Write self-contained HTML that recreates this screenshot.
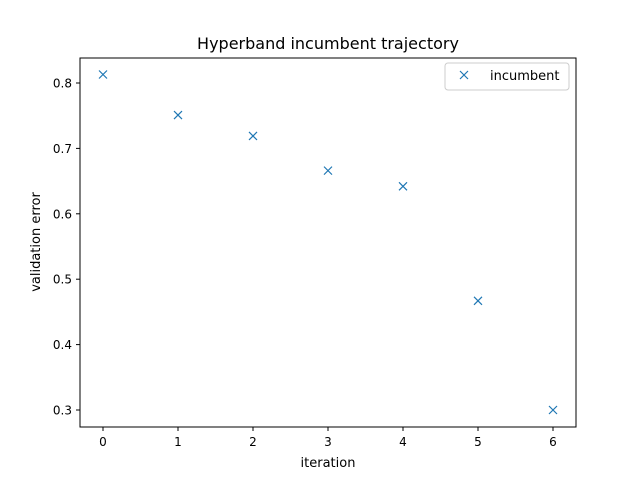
<!DOCTYPE html>
<html><head><meta charset="utf-8"><style>
body{margin:0;background:#fff;font-family:"DejaVu Sans","Liberation Sans",sans-serif}
svg text{font-family:"DejaVu Sans","Liberation Sans",sans-serif}
</style></head><body>
<svg id="chart" width="640" height="480" xmlns="http://www.w3.org/2000/svg">
<rect width="640" height="480" fill="#fff"/>
<text x="328" y="49" font-size="16" text-anchor="middle">Hyperband incumbent trajectory</text>
<g id="axes"></g>
<g id="marks"></g>
<rect x="80" y="58" width="496" height="369" fill="none" stroke="#000" stroke-width="1"/>
<text x="328" y="467" font-size="13" text-anchor="middle">iteration</text>
<text transform="translate(40,242) rotate(-90)" font-size="13" text-anchor="middle">validation error</text>
<g>
<rect x="445" y="63" width="124" height="27" rx="3" fill="#fff" stroke="#ccc"/>
<path d="M460,71 l8,8 M468,71 l-8,8" stroke="#1f77b4" stroke-width="1.2"/>
<text x="490" y="80" font-size="13">incumbent</text>
</g>
</svg>
<script>
const iterations=[0,1,2,3,4,5,6];
const errors=[0.813,0.751,0.719,0.666,0.642,0.467,0.300];
const xTicks=[0,1,2,3,4,5,6];
const yTicks=[0.3,0.4,0.5,0.6,0.7,0.8];
const ns="http://www.w3.org/2000/svg";
const xs=v=>103+v*75;
const ys=v=>83+(0.8-v)*654;
const axes=document.getElementById('axes'),marks=document.getElementById('marks');
function mk(t,a,p){const e=document.createElementNS(ns,t);for(const k in a)e.setAttribute(k,a[k]);p.appendChild(e);return e;}
xTicks.forEach(t=>{
 const l=mk('line',{x1:xs(t),x2:xs(t),y1:427,y2:431,stroke:'#000'},axes);
 
 
 const tx=mk('text',{x:xs(t),y:446,'font-size':12,'text-anchor':'middle'},axes);tx.textContent=t;
 
 
});
yTicks.forEach(t=>{
 const l=mk('line',{x1:76,x2:80,y1:ys(t),y2:ys(t),stroke:'#000'},axes);
 
 
 const tx=mk('text',{x:72,y:ys(t)+4.5,'font-size':12,'text-anchor':'end'},axes);tx.textContent=t.toFixed(1);
 
 
});
iterations.forEach((it,i)=>{
 const x=xs(it),y=ys(errors[i]);
 const p=mk('path',{d:`M${x-4},${y-4} l8,8 M${x+4},${y-4} l-8,8`,stroke:'#1f77b4','stroke-width':1.2},marks);
 
 
});
</script>
</body></html>
